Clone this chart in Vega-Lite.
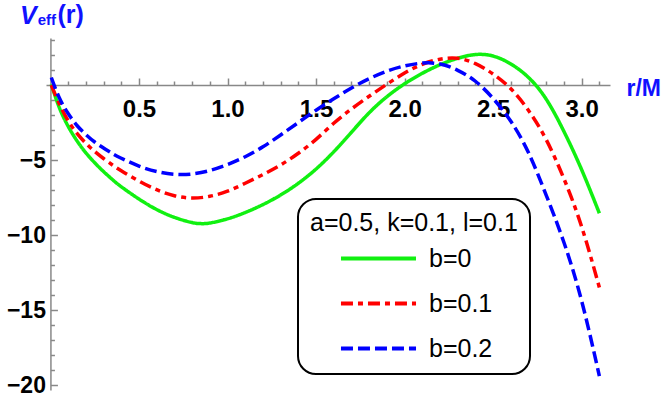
{
  "$schema": "https://vega.github.io/schema/vega-lite/v6.json",
  "width": 564,
  "height": 352,
  "autosize": {"type": "none"},
  "padding": {"left": 46, "top": 38, "right": 54, "bottom": 6},
  "layer": [
    {
      "data": {"values": [
        {"r": 0.005, "V": 0.05, "b": "b=0"}, {"r": 0.05, "V": -1.5, "b": "b=0"}, {"r": 0.1, "V": -2.75, "b": "b=0"}, {"r": 0.15, "V": -3.72, "b": "b=0"}, {"r": 0.2, "V": -4.52, "b": "b=0"}, {"r": 0.25, "V": -5.18, "b": "b=0"}, {"r": 0.3, "V": -5.77, "b": "b=0"}, {"r": 0.35, "V": -6.3, "b": "b=0"}, {"r": 0.4, "V": -6.78, "b": "b=0"}, {"r": 0.5, "V": -7.6, "b": "b=0"}, {"r": 0.6, "V": -8.3, "b": "b=0"}, {"r": 0.7, "V": -8.82, "b": "b=0"}, {"r": 0.8, "V": -9.17, "b": "b=0"}, {"r": 0.85, "V": -9.24, "b": "b=0"}, {"r": 0.9, "V": -9.2, "b": "b=0"}, {"r": 1.0, "V": -8.92, "b": "b=0"}, {"r": 1.1, "V": -8.5, "b": "b=0"}, {"r": 1.2, "V": -7.97, "b": "b=0"}, {"r": 1.3, "V": -7.33, "b": "b=0"}, {"r": 1.4, "V": -6.55, "b": "b=0"}, {"r": 1.5, "V": -5.6, "b": "b=0"}, {"r": 1.6, "V": -4.45, "b": "b=0"}, {"r": 1.7, "V": -3.15, "b": "b=0"}, {"r": 1.8, "V": -1.85, "b": "b=0"}, {"r": 1.9, "V": -0.78, "b": "b=0"}, {"r": 2.0, "V": 0.08, "b": "b=0"}, {"r": 2.1, "V": 0.78, "b": "b=0"}, {"r": 2.2, "V": 1.35, "b": "b=0"}, {"r": 2.3, "V": 1.78, "b": "b=0"}, {"r": 2.4, "V": 2.03, "b": "b=0"}, {"r": 2.5, "V": 1.93, "b": "b=0"}, {"r": 2.6, "V": 1.4, "b": "b=0"}, {"r": 2.7, "V": 0.5, "b": "b=0"}, {"r": 2.8, "V": -0.95, "b": "b=0"}, {"r": 2.9, "V": -3.1, "b": "b=0"}, {"r": 3.0, "V": -5.65, "b": "b=0"}, {"r": 3.1, "V": -8.55, "b": "b=0"},
        {"r": 0.005, "V": 0.0, "b": "b=0.1"}, {"r": 0.05, "V": -1.25, "b": "b=0.1"}, {"r": 0.1, "V": -2.38, "b": "b=0.1"}, {"r": 0.15, "V": -3.22, "b": "b=0.1"}, {"r": 0.2, "V": -3.88, "b": "b=0.1"}, {"r": 0.25, "V": -4.43, "b": "b=0.1"}, {"r": 0.3, "V": -4.9, "b": "b=0.1"}, {"r": 0.35, "V": -5.33, "b": "b=0.1"}, {"r": 0.4, "V": -5.72, "b": "b=0.1"}, {"r": 0.5, "V": -6.4, "b": "b=0.1"}, {"r": 0.6, "V": -6.98, "b": "b=0.1"}, {"r": 0.7, "V": -7.38, "b": "b=0.1"}, {"r": 0.8, "V": -7.53, "b": "b=0.1"}, {"r": 0.9, "V": -7.42, "b": "b=0.1"}, {"r": 1.0, "V": -7.08, "b": "b=0.1"}, {"r": 1.1, "V": -6.55, "b": "b=0.1"}, {"r": 1.2, "V": -5.97, "b": "b=0.1"}, {"r": 1.3, "V": -5.33, "b": "b=0.1"}, {"r": 1.4, "V": -4.55, "b": "b=0.1"}, {"r": 1.5, "V": -3.62, "b": "b=0.1"}, {"r": 1.6, "V": -2.55, "b": "b=0.1"}, {"r": 1.7, "V": -1.6, "b": "b=0.1"}, {"r": 1.8, "V": -0.75, "b": "b=0.1"}, {"r": 1.9, "V": 0.05, "b": "b=0.1"}, {"r": 2.0, "V": 0.8, "b": "b=0.1"}, {"r": 2.1, "V": 1.38, "b": "b=0.1"}, {"r": 2.2, "V": 1.72, "b": "b=0.1"}, {"r": 2.3, "V": 1.78, "b": "b=0.1"}, {"r": 2.4, "V": 1.42, "b": "b=0.1"}, {"r": 2.5, "V": 0.73, "b": "b=0.1"}, {"r": 2.6, "V": -0.25, "b": "b=0.1"}, {"r": 2.7, "V": -1.7, "b": "b=0.1"}, {"r": 2.8, "V": -3.65, "b": "b=0.1"}, {"r": 2.9, "V": -6.25, "b": "b=0.1"}, {"r": 3.0, "V": -9.45, "b": "b=0.1"}, {"r": 3.1, "V": -13.5, "b": "b=0.1"},
        {"r": 0.005, "V": 0.5, "b": "b=0.2"}, {"r": 0.05, "V": -0.85, "b": "b=0.2"}, {"r": 0.1, "V": -1.9, "b": "b=0.2"}, {"r": 0.15, "V": -2.7, "b": "b=0.2"}, {"r": 0.2, "V": -3.3, "b": "b=0.2"}, {"r": 0.25, "V": -3.8, "b": "b=0.2"}, {"r": 0.3, "V": -4.2, "b": "b=0.2"}, {"r": 0.35, "V": -4.57, "b": "b=0.2"}, {"r": 0.4, "V": -4.88, "b": "b=0.2"}, {"r": 0.5, "V": -5.4, "b": "b=0.2"}, {"r": 0.6, "V": -5.77, "b": "b=0.2"}, {"r": 0.7, "V": -5.95, "b": "b=0.2"}, {"r": 0.8, "V": -5.93, "b": "b=0.2"}, {"r": 0.9, "V": -5.7, "b": "b=0.2"}, {"r": 1.0, "V": -5.3, "b": "b=0.2"}, {"r": 1.1, "V": -4.78, "b": "b=0.2"}, {"r": 1.2, "V": -4.12, "b": "b=0.2"}, {"r": 1.3, "V": -3.33, "b": "b=0.2"}, {"r": 1.4, "V": -2.5, "b": "b=0.2"}, {"r": 1.5, "V": -1.68, "b": "b=0.2"}, {"r": 1.6, "V": -0.92, "b": "b=0.2"}, {"r": 1.7, "V": -0.2, "b": "b=0.2"}, {"r": 1.8, "V": 0.42, "b": "b=0.2"}, {"r": 1.9, "V": 0.92, "b": "b=0.2"}, {"r": 2.0, "V": 1.27, "b": "b=0.2"}, {"r": 2.1, "V": 1.46, "b": "b=0.2"}, {"r": 2.2, "V": 1.4, "b": "b=0.2"}, {"r": 2.3, "V": 0.98, "b": "b=0.2"}, {"r": 2.4, "V": 0.25, "b": "b=0.2"}, {"r": 2.5, "V": -0.9, "b": "b=0.2"}, {"r": 2.6, "V": -2.42, "b": "b=0.2"}, {"r": 2.7, "V": -4.52, "b": "b=0.2"}, {"r": 2.8, "V": -7.35, "b": "b=0.2"}, {"r": 2.9, "V": -10.5, "b": "b=0.2"}, {"r": 3.0, "V": -14.4, "b": "b=0.2"}, {"r": 3.1, "V": -19.4, "b": "b=0.2"}
      ]},
      "mark": {"type": "line", "strokeWidth": 3.5, "strokeCap": "butt", "interpolate": "natural", "clip": false},
      "encoding": {
        "x": {
          "field": "r", "type": "quantitative",
          "scale": {"domain": [-0.025, 3.16], "nice": false, "zero": false},
          "axis": {
            "orient": "bottom", "offset": -305,
            "values": [0.5, 1.0, 1.5, 2.0, 2.5, 3.0],
            "format": ".1f",
            "tickSize": -7,
            "labelPadding": 19, "labelOverlap": false, "labelFlush": false, "labelBound": false,
            "labelFont": "Liberation Sans", "labelFontWeight": "bold", "labelFontSize": 24, "labelColor": "black",
            "domainColor": "#888888", "tickColor": "#888888", "domainWidth": 1.5, "tickWidth": 1.5, "grid": false,
            "title": "r/M", "titleX": 580, "titleY": 3, "titleAlign": "left", "titleBaseline": "middle", "titleAngle": 0,
            "titleFont": "Liberation Sans", "titleFontWeight": "bold", "titleFontSize": 23, "titleColor": "#1111ff"
          }
        },
        "y": {
          "field": "V", "type": "quantitative",
          "scale": {"domain": [-20.33, 3.133], "nice": false, "zero": false},
          "axis": {
            "orient": "left", "offset": -4.43,
            "values": [-20, -15, -10, -5],
            "format": "d",
            "tickSize": -7,
            "labelPadding": 12, "labelOverlap": false, "labelFlush": false, "labelBound": false,
            "labelFont": "Liberation Sans", "labelFontWeight": "bold", "labelFontSize": 23, "labelColor": "black",
            "domainColor": "#888888", "tickColor": "#888888", "domainWidth": 1.5, "tickWidth": 1.5, "grid": false,
            "title": "V", "titleAngle": 0, "titleX": -31, "titleY": -15, "titleAlign": "left", "titleBaseline": "alphabetic",
            "titleFont": "Liberation Sans", "titleFontStyle": "italic", "titleFontWeight": "bold", "titleFontSize": 25, "titleColor": "#1111ff"
          }
        },
        "color": {
          "field": "b", "type": "nominal", "title": "a=0.5, k=0.1, l=0.1",
          "scale": {"domain": ["b=0", "b=0.1", "b=0.2"], "range": ["#11f011", "#ff0000", "#0000ff"]}
        },
        "strokeDash": {
          "field": "b", "type": "nominal", "title": "a=0.5, k=0.1, l=0.1",
          "scale": {"domain": ["b=0", "b=0.1", "b=0.2"], "range": [[1, 0], [12, 5, 5, 5], [12, 5]]}
        }
      }
    },
    {
      "data": {"values": [{"t": "eff"}]},
      "mark": {"type": "text", "font": "Liberation Sans", "fontWeight": "bold", "fontSize": 15, "color": "#1111ff", "align": "left", "baseline": "alphabetic"},
      "encoding": {
        "x": {"datum": -0.072, "axis": {
          "orient": "bottom", "offset": -305,
          "values": [0.1, 0.2, 0.3, 0.4, 0.6, 0.7, 0.8, 0.9, 1.1, 1.2, 1.3, 1.4, 1.6, 1.7, 1.8, 1.9, 2.1, 2.2, 2.3, 2.4, 2.6, 2.7, 2.8, 2.9, 3.1],
          "labels": false, "domain": false, "grid": false, "title": null,
          "tickSize": -4, "tickColor": "#888888", "tickWidth": 1.5
        }},
        "y": {"datum": 3.97, "axis": {
          "orient": "left", "offset": -4.43,
          "values": [-19, -18, -17, -16, -14, -13, -12, -11, -9, -8, -7, -6, -4, -3, -2, -1, 1, 2, 3],
          "labels": false, "domain": false, "grid": false, "title": null,
          "tickSize": -4, "tickColor": "#888888", "tickWidth": 1.5
        }},
        "text": {"field": "t"}
      }
    },
    {
      "data": {"values": [{"t": "(r)"}]},
      "mark": {"type": "text", "font": "Liberation Sans", "fontWeight": "bold", "fontSize": 25, "color": "#1111ff", "align": "left", "baseline": "alphabetic"},
      "encoding": {
        "x": {"datum": 0.04, "axis": null},
        "y": {"datum": 4.13, "axis": null},
        "text": {"field": "t"}
      }
    }
  ],
  "resolve": {"axis": {"x": "independent", "y": "independent"}},
  "config": {
    "view": {"stroke": null},
    "font": "Liberation Sans",
    "axis": {"labelOverlap": false, "labelFlush": false, "labelBound": false},
    "legend": {
      "orient": "none", "legendX": 252, "legendY": 161,
      "titleFont": "Liberation Sans", "titleFontSize": 25, "titleFontWeight": "normal", "titleColor": "black", "titlePadding": 10, "titleLimit": 0,
      "labelFont": "Liberation Sans", "labelFontSize": 25, "labelColor": "black", "labelLimit": 0,
      "symbolType": "M-4,0H4", "symbolSize": 352, "symbolStrokeWidth": 4, "symbolOffset": 56, "labelOffset": 38,
      "rowPadding": 19, "padding": 12, "strokeColor": "black", "strokeWidth": 2, "cornerRadius": 18, "fillColor": "white"
    }
  }
}
